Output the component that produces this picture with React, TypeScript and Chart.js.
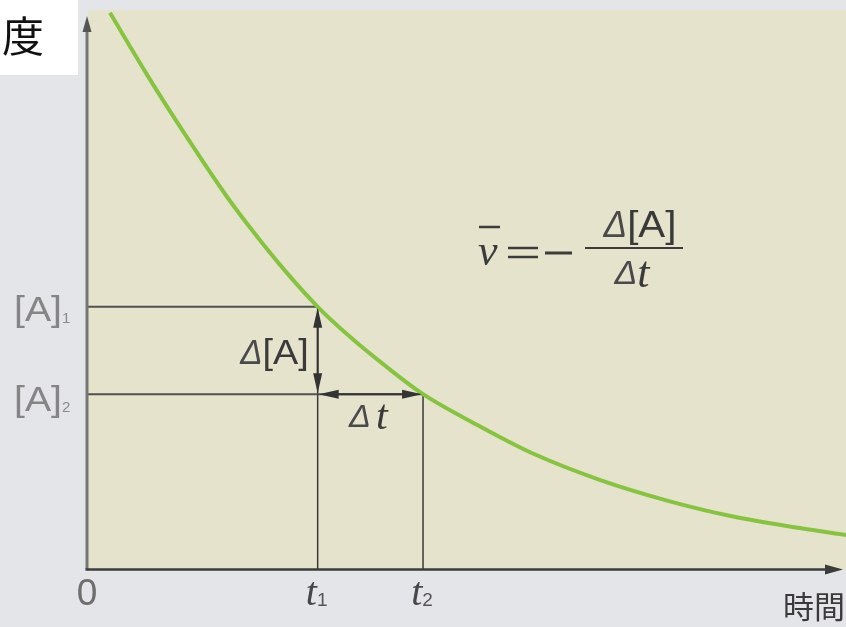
import React, { useEffect, useRef } from 'react';
import { Chart, registerables } from 'chart.js';

Chart.register(...registerables);

// Concentration of A versus time (arbitrary units)
const timeValues = [0.29, 0.79, 1.27, 1.81, 2.14, 2.57, 3.03, 3.46, 3.89, 4.42, 5.15, 5.87, 6.75, 7.64, 8.51, 9.39, 10.0];
const concValues = [9.95, 8.82, 7.8, 6.71, 6.11, 5.39, 4.7, 4.16, 3.68, 3.14, 2.58, 2.08, 1.61, 1.24, 0.955, 0.75, 0.625];

// marked times t1, t2 and concentrations [A]1, [A]2
const markTimes = [3.03, 4.42];
const markConcs = [4.7, 3.14];
const timeTickSubs = ['1', '2'];
const concTickSubs = ['1', '2'];
const originLabel = '0';
const xAxisTitle = '時間';
const yAxisTitle = '度';

type Part = { text: string; font: string; color: string; dy?: number; sx?: number };

function drawParts(ctx: CanvasRenderingContext2D, parts: Part[], x: number, y: number, align: 'left' | 'center' | 'right') {
  ctx.save();
  ctx.textBaseline = 'middle';
  ctx.textAlign = 'left';
  let total = 0;
  const widths = parts.map((p) => {
    ctx.font = p.font;
    const w = ctx.measureText(p.text).width * (p.sx || 1);
    total += w;
    return w;
  });
  let cx = align === 'left' ? x : align === 'center' ? x - total / 2 : x - total;
  parts.forEach((p, i) => {
    ctx.save();
    ctx.font = p.font;
    ctx.fillStyle = p.color;
    ctx.translate(cx, y + (p.dy || 0));
    ctx.scale(p.sx || 1, 1);
    ctx.fillText(p.text, 0, 0);
    ctx.restore();
    cx += widths[i];
  });
  ctx.restore();
}

function arrowHead(ctx: CanvasRenderingContext2D, tipX: number, tipY: number, dir: 'up' | 'down' | 'left' | 'right', len: number, half: number, color: string) {
  ctx.save();
  ctx.fillStyle = color;
  ctx.beginPath();
  ctx.moveTo(tipX, tipY);
  if (dir === 'up') {
    ctx.lineTo(tipX - half, tipY + len);
    ctx.lineTo(tipX + half, tipY + len);
  } else if (dir === 'down') {
    ctx.lineTo(tipX - half, tipY - len);
    ctx.lineTo(tipX + half, tipY - len);
  } else if (dir === 'left') {
    ctx.lineTo(tipX + len, tipY - half);
    ctx.lineTo(tipX + len, tipY + half);
  } else {
    ctx.lineTo(tipX - len, tipY - half);
    ctx.lineTo(tipX - len, tipY + half);
  }
  ctx.closePath();
  ctx.fill();
  ctx.restore();
}

function line(ctx: CanvasRenderingContext2D, x1: number, y1: number, x2: number, y2: number, color: string, w: number) {
  ctx.save();
  ctx.strokeStyle = color;
  ctx.lineWidth = w;
  ctx.beginPath();
  ctx.moveTo(x1, y1);
  ctx.lineTo(x2, y2);
  ctx.stroke();
  ctx.restore();
}

const SANS = '"Liberation Sans", Arial, sans-serif';
const SERIF = '"Liberation Serif", "Times New Roman", serif';
const CJK = '"Noto Sans CJK JP", "Noto Sans CJK SC", sans-serif';

const decorPlugin = {
  id: 'decor',
  beforeDraw(chart: any) {
    const { ctx, chartArea: a, width, height } = chart;
    ctx.save();
    ctx.fillStyle = '#e4e5e9';
    ctx.fillRect(0, 0, width, height);
    ctx.fillStyle = '#e5e3cc';
    ctx.fillRect(a.left, a.top, a.right - a.left, a.bottom - a.top);
    ctx.restore();
  },
  beforeDatasetsDraw(chart: any) {
    const { ctx } = chart;
    const xs = chart.scales.x;
    const ys = chart.scales.y;
    const x0 = xs.getPixelForValue(0);
    const y0 = ys.getPixelForValue(0);
    markTimes.forEach((t, i) => {
      const px = xs.getPixelForValue(t);
      const py = ys.getPixelForValue(markConcs[i]);
      line(ctx, x0, py, px, py, '#505050', 2);
      line(ctx, px, py, px, y0, '#3a3a3a', 1.5);
    });
  },
  afterDraw(chart: any) {
    const { ctx } = chart;
    const xs = chart.scales.x;
    const ys = chart.scales.y;
    const x0 = xs.getPixelForValue(0) - 1;
    const y0 = ys.getPixelForValue(0) - 0.5;
    const xEnd = xs.getPixelForValue(10) - 3;

    // y axis
    line(ctx, x0, y0, x0, 30, '#767676', 3);
    arrowHead(ctx, x0, 16, 'up', 16, 4.5, '#555555');
    // x axis
    line(ctx, x0 - 1.5, y0, xEnd - 12, y0, '#3c3c3c', 2.5);
    arrowHead(ctx, xEnd, y0, 'right', 18, 5, '#3c3c3c');

    const pt1 = xs.getPixelForValue(markTimes[0]);
    const pt2 = xs.getPixelForValue(markTimes[1]);
    const pA1 = ys.getPixelForValue(markConcs[0]);
    const pA2 = ys.getPixelForValue(markConcs[1]);

    // Δ[A] double arrow
    line(ctx, pt1, pA1 + 10, pt1, pA2 - 10, '#333333', 2);
    arrowHead(ctx, pt1, pA1 + 1, 'up', 20, 4.5, '#333333');
    arrowHead(ctx, pt1, pA2 - 1, 'down', 20, 4.5, '#333333');
    // Δt double arrow
    line(ctx, pt1 + 10, pA2, pt2 - 10, pA2, '#333333', 2);
    arrowHead(ctx, pt1 + 1, pA2, 'left', 20, 4.5, '#333333');
    arrowHead(ctx, pt2 - 1, pA2, 'right', 20, 4.5, '#333333');

    // axis labels
    drawParts(ctx, [{ text: originLabel, font: `37px ${SANS}`, color: '#6e6e6e' }], x0, y0 + 25, 'center');
    markTimes.forEach((t, i) => {
      drawParts(
        ctx,
        [
          { text: 't', font: `italic 40px ${SERIF}`, color: '#474747' },
          { text: timeTickSubs[i], font: `19px ${SANS}`, color: '#555555', dy: 6 },
        ],
        xs.getPixelForValue(t) - 1,
        y0 + 25,
        'center'
      );
    });
    markConcs.forEach((c, i) => {
      drawParts(
        ctx,
        [
          { text: '[A]', font: `35px ${SANS}`, color: '#858585', sx: 1.12 },
          { text: concTickSubs[i], font: `15px ${SANS}`, color: '#8a8a8a', dy: 7 },
        ],
        14,
        ys.getPixelForValue(c) + 5 + i * 2,
        'left'
      );
    });
    drawParts(ctx, [{ text: xAxisTitle, font: `31px ${CJK}`, color: '#3a3a3a' }], 845, 606, 'right');

    // Δ[A] and Δt labels
    drawParts(
      ctx,
      [
        { text: 'Δ', font: `italic 35px ${SANS}`, color: '#4a4a4a', sx: 0.95 },
        { text: '[A]', font: `35px ${SANS}`, color: '#3a3a3a', sx: 1.08 },
      ],
      pt1 - 9,
      (pA1 + pA2) / 2 + 4,
      'right'
    );
    drawParts(
      ctx,
      [
        { text: 'Δ', font: `italic 31px ${SANS}`, color: '#4a4a4a', sx: 1.05 },
        { text: '\u2009', font: `26px ${SANS}`, color: '#4a4a4a' },
        { text: 't', font: `italic 42px ${SERIF}`, color: '#3a3a3a' },
      ],
      (pt1 + pt2) / 2 - 2,
      pA2 + 24,
      'center'
    );

    // formula  v̄ = − Δ[A] / Δt
    ctx.save();
    ctx.fillStyle = '#3c3c3c';
    ctx.textBaseline = 'alphabetic';
    ctx.textAlign = 'left';
    ctx.font = `italic 44px ${SERIF}`;
    ctx.fillText('v', 478, 265);
    ctx.restore();
    line(ctx, 479, 227, 500, 227, '#3c3c3c', 2.5);
    line(ctx, 508, 248, 538, 248, '#3c3c3c', 2.5);
    line(ctx, 508, 257, 538, 257, '#3c3c3c', 2.5);
    line(ctx, 545, 253, 572, 253, '#3c3c3c', 3);
    line(ctx, 585, 248, 683, 248, '#3c3c3c', 2);
    drawParts(
      ctx,
      [
        { text: 'Δ', font: `italic 37px ${SANS}`, color: '#4a4a4a', sx: 0.95 },
        { text: '[A]', font: `36px ${SANS}`, color: '#3a3a3a', sx: 1.12 },
      ],
      640,
      227,
      'center'
    );
    drawParts(
      ctx,
      [
        { text: 'Δ', font: `italic 34px ${SANS}`, color: '#4a4a4a' },
        { text: 't', font: `italic 44px ${SERIF}`, color: '#3a3a3a' },
      ],
      632,
      275,
      'center'
    );

    // y-axis title fragment in the white box
    ctx.save();
    ctx.fillStyle = '#ffffff';
    ctx.fillRect(0, 0, 78, 75);
    ctx.restore();
    drawParts(ctx, [{ text: yAxisTitle, font: `42px ${CJK}`, color: '#111111' }], 2, 36, 'left');
  },
};

export default function App() {
  const ref = useRef<HTMLCanvasElement | null>(null);
  useEffect(() => {
    if (!ref.current) return;
    const chart = new Chart(ref.current, {
      type: 'line',
      data: {
        datasets: [
          {
            data: timeValues.map((t, i) => ({ x: t, y: concValues[i] })),
            borderColor: '#86c440',
            borderWidth: 4,
            pointRadius: 0,
            cubicInterpolationMode: 'monotone',
            fill: false,
          },
        ],
      },
      options: {
        animation: false,
        responsive: false,
        devicePixelRatio: 1,
        layout: { padding: { left: 88, top: 10, right: 0, bottom: 57 } },
        plugins: { legend: { display: false }, tooltip: { enabled: false } },
        scales: {
          x: { type: 'linear', min: 0, max: 10, display: false },
          y: { type: 'linear', min: 0, max: 10, display: false },
        },
      },
      plugins: [decorPlugin],
    } as any);
    return () => chart.destroy();
  }, []);
  return (
    <div style={{ position: 'absolute', left: 0, top: 0, width: 846, height: 627 }}>
      <canvas ref={ref} width={846} height={627} />
    </div>
  );
}
